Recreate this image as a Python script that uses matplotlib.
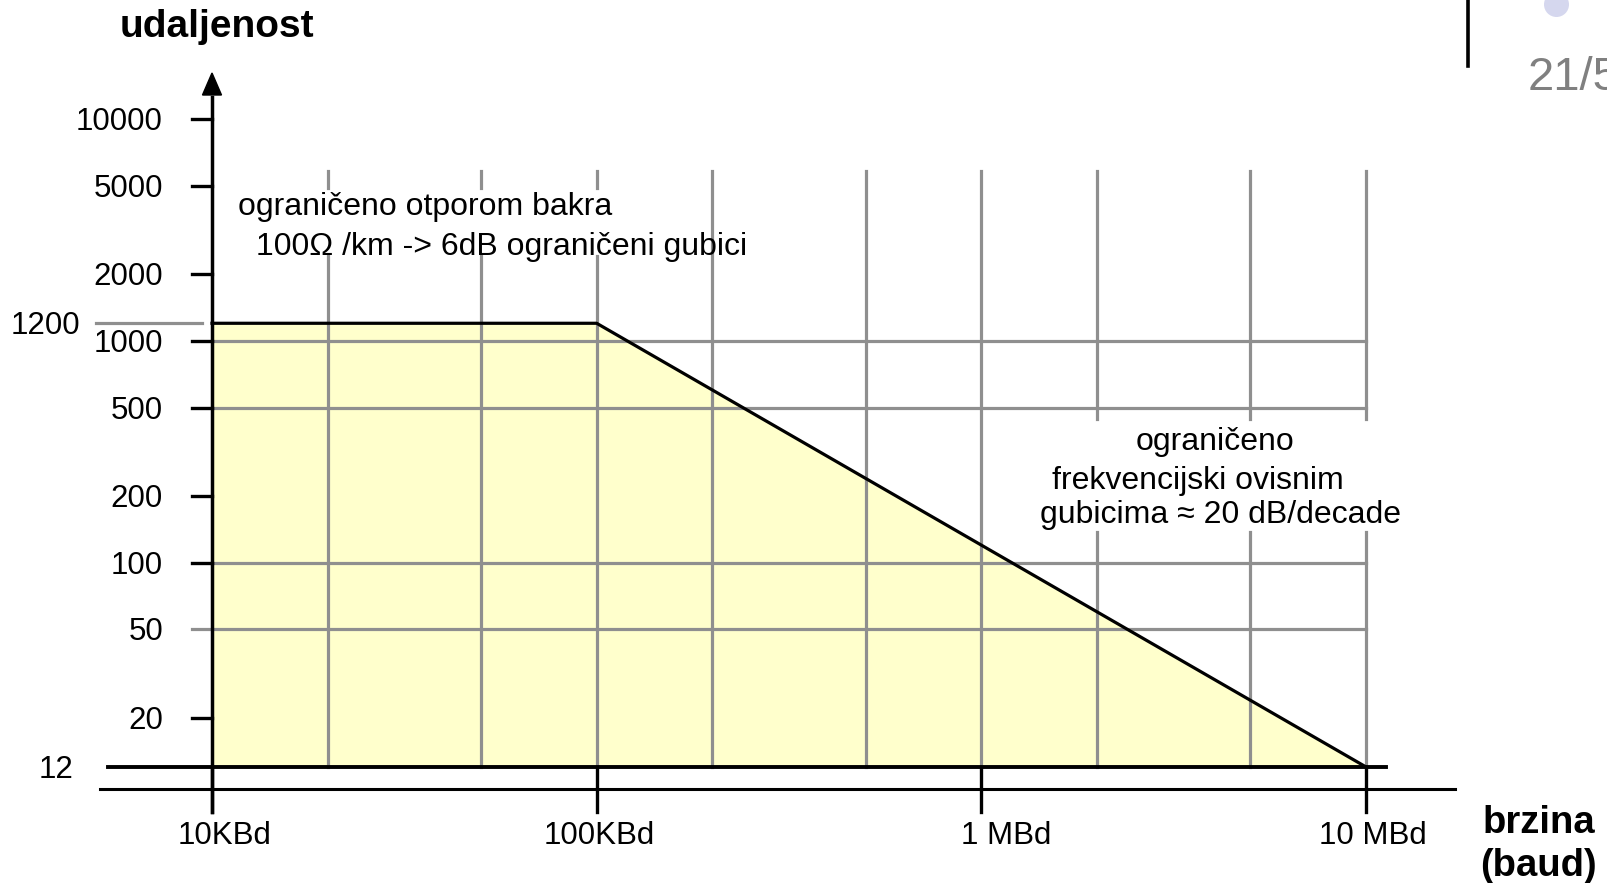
import numpy as np
import matplotlib
matplotlib.use('Agg')
import matplotlib.pyplot as plt
from matplotlib.patches import Polygon
from matplotlib.transforms import offset_copy

plt.rcParams['font.family'] = ['Liberation Sans', 'DejaVu Sans']

# podaci
brzine = [1e4, 1e5, 1e6, 1e7]
brzine_oznake = ['10KBd', '100KBd', '1 MBd', '10 MBd']
mreza_x = [2e4, 5e4, 1e5, 2e5, 5e5, 1e6, 2e6, 5e6, 1e7]
udaljenosti = [10000, 5000, 2000, 1000, 500, 200, 100, 50, 20]
mreza_y = [1000, 500, 100, 50]
granica_x = [1e4, 1e4, 1e5, 1e7]
granica_y = [12, 1200, 1200, 12]
dno = 12
ravno = 1200


# pikseli slike -> vrijednosti na log-log osima
def px_x(p):
    return 10 ** (4 + (p - 212) / 384.67)


def px_y(p):
    return 10 ** (4 - (p - 119) / 221.84)


fig = plt.figure(figsize=(16.07, 8.83), dpi=100)
ax = fig.add_axes([0, 0, 1, 1])
ax.set_xscale('log')
ax.set_yscale('log')
ax.set_xlim(px_x(0), px_x(1607))
ax.set_ylim(px_y(883), px_y(0))
ax.axis('off')

# zuto podrucje
ax.fill(granica_x, granica_y, color='#FFFFCC', zorder=1)

# mreza (s prekidima oko teksta)
siva = '#8f8f8f'
for x in mreza_x:
    if x <= 1e5:
        dijelovi = [(171, 188), (256, None)]
    elif x >= 2e6:
        dijelovi = [(171, 419), (532, None)]
    else:
        dijelovi = [(171, None)]
    for a, b in dijelovi:
        ax.plot([x, x], [px_y(a), dno if b is None else px_y(b)],
                color=siva, lw=2.3, zorder=2)
for y in mreza_y:
    x0 = px_x(192) if y == 50 else brzine[0]
    ax.plot([x0, brzine[-1]], [y, y], color=siva, lw=2.3, zorder=2)
ax.plot([px_x(96), px_x(202)], [ravno, ravno], color=siva, lw=2.3, zorder=2)

# granica
ax.plot(granica_x[1:], granica_y[1:], color='k', lw=2.3, zorder=3)

# osi
ax.plot([px_x(108), px_x(1386)], [dno, dno], color='k', lw=2.8, zorder=4)
ax.plot([px_x(100), px_x(1455)], [px_y(789)] * 2, color='k', lw=2.2, zorder=4)
ax.plot([brzine[0]] * 2, [px_y(97), px_y(812)], color='k', lw=2.5, zorder=4)
ax.add_patch(Polygon([(px_x(202.5), px_y(95)), (px_x(221.5), px_y(95)),
                      (px_x(212), px_y(73))], closed=True, color='k', zorder=4))
for v in udaljenosti:
    if v != 50:
        ax.plot([px_x(192), brzine[0]], [v, v], color='k', lw=2.4, zorder=4)
for b in brzine:
    ax.plot([b, b], [dno, px_y(812)], color='k', lw=2.4, zorder=4)

# oznake na osi y
pomak_y = offset_copy(ax.transData, fig=fig, y=-11, units='dots')
for v in udaljenosti:
    ax.text(px_x(163), v, str(v), transform=pomak_y, ha='right',
            va='baseline', fontsize=22.5)
ax.text(px_x(80), ravno, str(ravno), transform=pomak_y, ha='right',
        va='baseline', fontsize=22.5)
ax.text(px_x(74), dno, str(dno), transform=pomak_y, ha='right',
        va='baseline', fontsize=22.5)

# oznake na osi x
pomaci = [13, 3, 25, 7]
for b, t, d in zip(brzine, brzine_oznake, pomaci):
    tr = offset_copy(ax.transData, fig=fig, x=d, units='dots')
    ax.text(b, px_y(844), t, transform=tr, ha='center', va='baseline',
            fontsize=22.5)

# nazivi osi
ax.text(px_x(120), px_y(37), 'udaljenost', fontsize=28, fontweight='bold',
        ha='left', va='baseline')
ax.text(px_x(1483), px_y(833), 'brzina', fontsize=27.5, fontweight='bold',
        ha='left', va='baseline')
ax.text(px_x(1480), px_y(876), '(baud)', fontsize=27.5, fontweight='bold',
        ha='left', va='baseline')

# tekst u grafu
ax.text(px_x(238), px_y(215), 'ograničeno otporom bakra', fontsize=23,
        ha='left', va='baseline')
ax.text(px_x(256), px_y(255), '100Ω /km -> 6dB ograničeni gubici',
        fontsize=23, ha='left', va='baseline')
ax.text(px_x(1215), px_y(450), 'ograničeno', fontsize=23, ha='center',
        va='baseline')
ax.text(px_x(1052), px_y(489), 'frekvencijski ovisnim', fontsize=23,
        ha='left', va='baseline')
ax.text(px_x(1040), px_y(523), 'gubicima ≈ 20 dB/decade', fontsize=23,
        ha='left', va='baseline')

# ukras slajda
ax.plot([px_x(1468)] * 2, [px_y(0), px_y(66)], color='k', lw=2.6)
ax.plot(px_x(1556), px_y(4), 'o', ms=18, color='#D5D7EE', mec='none')
ax.text(px_x(1528), px_y(90), '21/5', fontsize=34, color='#808080',
        ha='left', va='baseline')

fig.savefig('out.png', dpi=100)
